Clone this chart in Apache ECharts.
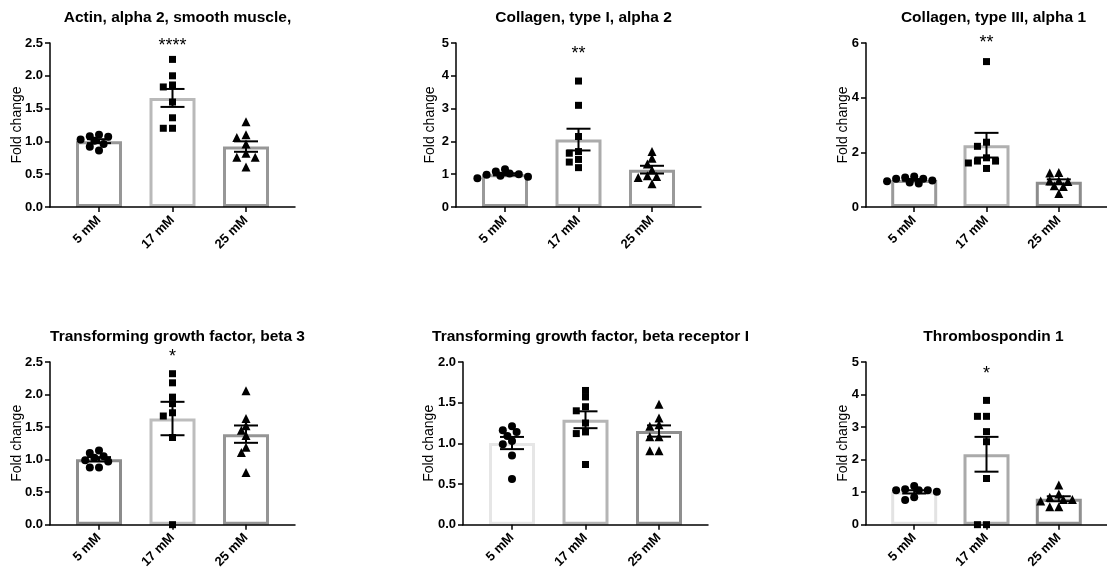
<!DOCTYPE html>
<html>
<head>
<meta charset="utf-8">
<script src="https://cdn.jsdelivr.net/npm/echarts@6/dist/echarts.min.js"></script>
<style>
html,body{margin:0;padding:0;background:#fff;}
#c{width:1107px;height:571px;}
</style>
</head>
<body>
<div id="c"></div>
<script>
// ---------- data ----------
const categories = ['5 mM', '17 mM', '25 mM'];
const titles = [
  'Actin, alpha 2, smooth muscle,',
  'Collagen, type I, alpha 2',
  'Collagen, type III, alpha 1',
  'Transforming growth factor, beta 3',
  'Transforming growth factor, beta receptor I',
  'Thrombospondin 1'
];
const stars = ['****', '**', '**', '*', '', '*'];
const yMax = [2.5, 5, 6, 2.5, 2.0, 5];
const yStep = [0.5, 1, 2, 0.5, 0.5, 1];
const yDecimals = [1, 0, 0, 1, 1, 0];

const actin5  = [1.03, 0.96, 1.08, 1.01, 1.10, 0.92, 1.07, 0.86];
const actin17 = [2.25, 2.00, 1.86, 1.83, 1.60, 1.36, 1.20, 1.20];
const actin25 = [1.30, 1.10, 1.06, 0.96, 0.82, 0.76, 0.76, 0.61];

const col1a2_5  = [1.02, 0.98, 1.08, 0.92, 1.15, 0.95, 1.00, 0.88];
const col1a2_17 = [3.84, 3.10, 2.15, 1.69, 1.64, 1.45, 1.37, 1.20];
const col1a2_25 = [1.49, 1.69, 1.31, 1.13, 0.93, 0.90, 0.95, 0.71];

const col3a1_5  = [1.03, 0.97, 1.08, 0.86, 1.12, 0.94, 1.03, 0.90];
const col3a1_17 = [5.32, 2.37, 2.22, 1.80, 1.68, 1.68, 1.61, 1.41];
const col3a1_25 = [1.24, 1.26, 0.93, 0.95, 0.97, 0.75, 0.78, 0.49];

const tgfb3_5  = [1.10, 1.03, 0.97, 1.05, 1.14, 0.99, 0.88, 0.88];
const tgfb3_17 = [2.32, 2.18, 1.96, 1.86, 1.72, 1.67, 1.34, 0.00];
const tgfb3_25 = [2.06, 1.63, 1.52, 1.45, 1.37, 1.19, 1.11, 0.80];

const tgfbr1_5  = [1.16, 1.09, 1.14, 1.21, 1.03, 0.99, 0.85, 0.56];
const tgfbr1_17 = [1.65, 1.57, 1.45, 1.40, 1.25, 1.14, 1.12, 0.74];
const tgfbr1_25 = [1.48, 1.31, 1.23, 1.21, 1.08, 1.08, 0.91, 0.91];

const thbs1_5  = [1.06, 1.01, 1.19, 1.09, 1.06, 1.06, 0.76, 0.84];
const thbs1_17 = [3.82, 3.33, 3.33, 2.86, 2.55, 1.42, 0.00, 0.00];
const thbs1_25 = [1.22, 0.94, 0.84, 0.77, 0.73, 0.77, 0.55, 0.55];

const groups = [
  [actin5, actin17, actin25],
  [col1a2_5, col1a2_17, col1a2_25],
  [col3a1_5, col3a1_17, col3a1_25],
  [tgfb3_5, tgfb3_17, tgfb3_25],
  [tgfbr1_5, tgfbr1_17, tgfbr1_25],
  [thbs1_5, thbs1_17, thbs1_25]
];

// ---------- layout / style ----------
const FONT = '"Liberation Sans", Arial, Helvetica, sans-serif';
const gridPos = [
  {left: 50, top: 43}, {left: 456, top: 43}, {left: 866, top: 43},
  {left: 50, top: 362}, {left: 463, top: 362}, {left: 866, top: 362}
];
const GW = 245, GH = 164;
const X_MIN = -2 / 3, X_MAX = 8 / 3;
const titleTop = [5, 5, 5, 324, 324, 324];
const nameGaps = [26, 19, 16, 26, 27, 16];
const starDy = [-2.5, 5.5, -5.5, -10.5, 0, 6.5];
const barColors = [
  ['#979797', '#b9b9b9', '#979797'],
  ['#9a9a9a', '#ababab', '#9a9a9a'],
  ['#9a9a9a', '#b0b0b0', '#8c8c8c'],
  ['#8c8c8c', '#bdbdbd', '#959595'],
  ['#e6e6e6', '#b5b5b5', '#8f8f8f'],
  ['#e3e3e3', '#aaaaaa', '#909090']
];
const symbols = ['circle', 'rect', 'triangle'];
const symSizes = [8, 7, 9];

function mean(a) { return a.reduce((s, v) => s + v, 0) / a.length; }
function sem(a) {
  const m = mean(a);
  const sd = Math.sqrt(a.reduce((s, v) => s + (v - m) * (v - m), 0) / (a.length - 1));
  return sd / Math.sqrt(a.length);
}
// simple beeswarm: horizontal offsets (px) so markers don't overlap too much
function swarm(values, pxPerY, step, diam) {
  const order = values.map((v, i) => i).sort((a, b) => values[b] - values[a]);
  const placed = [];
  const off = new Array(values.length).fill(0);
  for (const i of order) {
    const y = values[i] * pxPerY;
    for (let k = 0; k < 40; k++) {
      const c = k === 0 ? 0 : (k % 2 ? -1 : 1) * Math.ceil(k / 2) * step;
      if (placed.every(p => Math.hypot(p.x - c, p.y - y) >= diam)) {
        off[i] = c; placed.push({x: c, y}); break;
      }
    }
  }
  return off;
}

const grid = [], xAxis = [], yAxis = [], series = [], title = [];
const pxPerX = GW / (X_MAX - X_MIN);

groups.forEach((g, i) => {
  grid.push({left: gridPos[i].left, top: gridPos[i].top, width: GW, height: GH, containLabel: false});
  title.push({
    text: titles[i], left: gridPos[i].left + (1 - X_MIN) * pxPerX, top: titleTop[i], textAlign: 'center',
    textStyle: {fontFamily: FONT, fontSize: 15.5, fontWeight: 'bold', color: '#000'}
  });
  xAxis.push({
    gridIndex: i, type: 'value', min: X_MIN, max: X_MAX, z: 6,
    axisLine: {show: true, onZero: false, lineStyle: {color: '#000', width: 1.5}},
    axisTick: {show: true, customValues: [0, 1, 2], length: 5, lineStyle: {color: '#000', width: 1.5}},
    axisLabel: {
      customValues: [0, 1, 2], rotate: 45, margin: 11,
      formatter: v => categories[Math.round(v)] || '',
      fontFamily: FONT, fontSize: 13, fontWeight: 'bold', color: '#000'
    },
    splitLine: {show: false}
  });
  yAxis.push({
    gridIndex: i, type: 'value', min: 0, max: yMax[i], interval: yStep[i], z: 6,
    name: 'Fold change', nameLocation: 'middle', nameRotate: 90, nameGap: nameGaps[i],
    nameMoveOverlap: false,
    nameTextStyle: {fontFamily: FONT, fontSize: 14, color: '#000'},
    axisLine: {show: true, onZero: false, lineStyle: {color: '#000', width: 1.5}},
    axisTick: {show: true, length: 5, lineStyle: {color: '#000', width: 1.5}},
    axisLabel: {
      margin: 7, formatter: v => v.toFixed(yDecimals[i]),
      fontFamily: FONT, fontSize: 13, fontWeight: 'bold', color: '#000'
    },
    splitLine: {show: false}
  });
  const means = g.map(mean);
  const sems = g.map(sem);
  series.push({
    type: 'bar', xAxisIndex: i, yAxisIndex: i, barWidth: 46, z: 1, silent: true,
    data: means.map((m, k) => ({value: [k, m], itemStyle: {color: '#fff', borderColor: barColors[i][k], borderWidth: 3}}))
  });
  const pxPerY = GH / yMax[i];
  g.forEach((vals, k) => {
    const offs = swarm(vals, pxPerY, 4.6, 6.2);
    series.push({
      type: 'scatter', xAxisIndex: i, yAxisIndex: i, z: 3, silent: true,
      symbol: symbols[k], symbolSize: symSizes[k], itemStyle: {color: '#000', opacity: 1},
      data: vals.map((v, j) => [k + offs[j] / pxPerX, v])
    });
  });
  series.push({
    type: 'custom', xAxisIndex: i, yAxisIndex: i, z: 4, silent: true,
    data: means.map((m, k) => [k, m, sems[k]]),
    renderItem: (params, api) => {
      const x = api.value(0), m = api.value(1), s = api.value(2);
      const t = api.coord([x, m + s]), b = api.coord([x, m - s]);
      const hw = 12;
      const st = {stroke: '#000', lineWidth: 2};
      return {type: 'group', children: [
        {type: 'line', shape: {x1: t[0], y1: t[1], x2: b[0], y2: b[1]}, style: st},
        {type: 'line', shape: {x1: t[0] - hw, y1: t[1], x2: t[0] + hw, y2: t[1]}, style: st},
        {type: 'line', shape: {x1: b[0] - hw, y1: b[1], x2: b[0] + hw, y2: b[1]}, style: st}
      ]};
    }
  });
});

const chart = echarts.init(document.getElementById('c'), null, {renderer: 'canvas'});
chart.setOption({animation: false, backgroundColor: '#fff', title, grid, xAxis, yAxis, series});

// significance stars above the 17 mM group
const graphic = [];
stars.forEach((s, i) => {
  if (!s) return;
  const p = chart.convertToPixel({xAxisIndex: i, yAxisIndex: i}, [1, yMax[i]]);
  graphic.push({
    type: 'text', x: p[0], y: p[1] + starDy[i] + 5.5, z: 10,
    style: {text: s, fontFamily: FONT, fontSize: 18, fill: '#000', align: 'center', verticalAlign: 'middle'}
  });
});
chart.setOption({graphic});
</script>
</body>
</html>
